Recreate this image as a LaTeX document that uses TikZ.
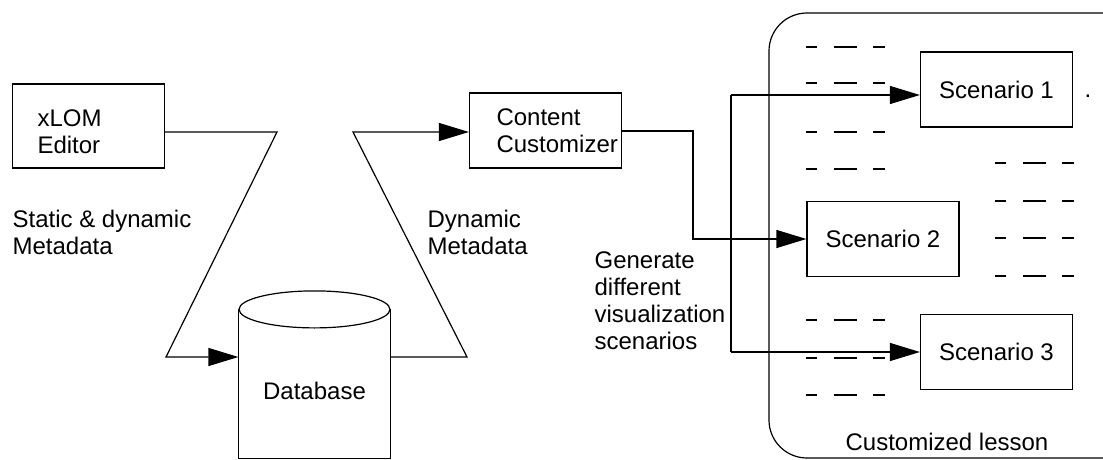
\documentclass[tikz,border=0pt]{standalone}
\usepackage{fontspec}
\setmainfont{Liberation Sans}
\usetikzlibrary{arrows.meta}

\begin{document}
\begin{tikzpicture}[
  x=0.5pt, y=-0.5pt,
  line width=0.6pt,
  every node/.style={font=\fontsize{12}{13.5}\selectfont},
  box/.style={draw, minimum width=76pt, minimum height=37.5pt},
  flow/.style={-{Triangle[length=15pt, width=9pt]}},
  txt/.style={anchor=north west, align=left, inner sep=0pt},
  gaps/.style={line width=1.4pt, dash pattern=on 5.5pt off 8.5pt on 11.5pt off 8pt on 6pt}
]
\useasboundingbox (0,0) rectangle (1103,460);

% boxes
\node[box, minimum height=42pt] (editor) at (88.5,126) {};
\node[txt, anchor=west] (editorlbl) at ([xshift=12.5pt, yshift=-3pt]editor.west) {xLOM\\Editor};
\node[box] (customizer) at (545.5,130.5) {};
\node[txt, anchor=west] (customizerlbl) at ([xshift=13.5pt]customizer.west) {Content\\Customizer};
\node[minimum width=75.5pt, minimum height=74pt, text height=16pt] (db) at (314.5,384) {Database};
\draw (db.north west) -- (db.south west) -- (db.south east) -- (db.north east);
\draw (db.north) ellipse [x radius=37.75pt, y radius=9.25pt];

% customized lesson
\node[draw, rounded corners=19pt, minimum width=185pt, minimum height=222.5pt] (lesson) at (954,235.5) {};
\node[anchor=base] (lessonlbl) at (947,450) {Customized lesson};
\node[box] (sc1) at (996.5,89.5) {Scenario 1};
\node[box] (sc2) at (883,239) {Scenario 2};
\node[box] (sc3) at (996.5,352) {Scenario 3};
\node (dot) at (1088,96) {.};

\foreach \y in {47,83,132,169,320,358,395}
  \draw[gaps] (806,\y) -- (885,\y);
\foreach \y in {163,201,238,276}
  \draw[gaps] (995,\y) -- (1074,\y);

% labels
\node[txt] (staticlbl) at (12,210) {Static \& dynamic\\Metadata};
\node[txt] (dynlbl) at (427,210) {Dynamic\\Metadata};
\node[txt] (genlbl) at (594,251) {Generate\\different\\visualization\\scenarios};

% connectors
\coordinate (e1) at (277,132);
\coordinate (e2) at (166,357);
\coordinate (d1) at (467,357);
\coordinate (d2) at (353,132);
\coordinate (c1) at (693,131);
\coordinate (b1) at (731,95);
\coordinate (b3) at (731,352);
\draw[flow] (editor.east |- e1) -- (e1) -- (e2) -- (e2 -| db.west);
\draw[flow] (db.east |- d1) -- (d1) -- (d2) -- (d2 -| customizer.west);
\draw[flow] (customizer.east |- c1) -- (c1) |- (sc2.west);
\draw (b1) -- (b3);
\draw[flow] (b1) -- (b1 -| sc1.west);
\draw[flow] (b3) -- (b3 -| sc3.west);

\end{tikzpicture}
\end{document}
